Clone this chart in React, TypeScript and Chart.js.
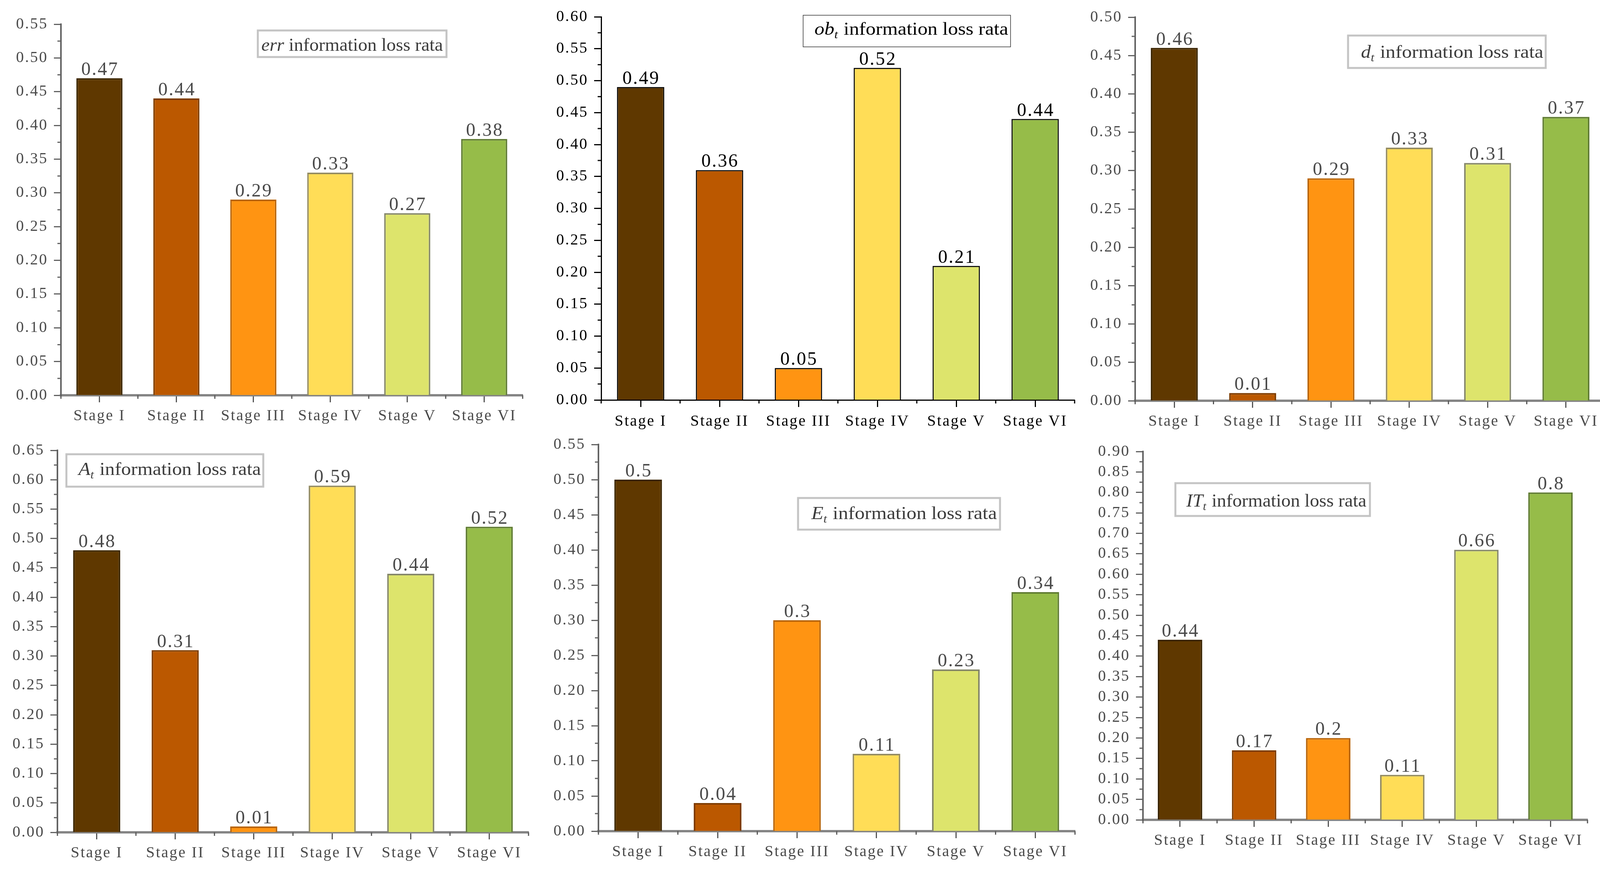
import React, { useEffect, useRef } from 'react';
import { Chart, registerables } from 'chart.js';

Chart.register(...registerables);

// ---------------- data ----------------
const categories = ['Stage I', 'Stage II', 'Stage III', 'Stage IV', 'Stage V', 'Stage VI'];
const errValues = [0.47, 0.44, 0.29, 0.33, 0.27, 0.38];
const obValues = [0.49, 0.36, 0.05, 0.52, 0.21, 0.44];
const dValues = [0.46, 0.01, 0.29, 0.33, 0.31, 0.37];
const aValues = [0.48, 0.31, 0.01, 0.59, 0.44, 0.52];
const eValues = [0.5, 0.04, 0.3, 0.11, 0.23, 0.34];
const itValues = [0.44, 0.17, 0.2, 0.11, 0.66, 0.8];
const yAxisMax = [0.55, 0.6, 0.5, 0.65, 0.55, 0.9];
const yTickStep = 0.05;

// ---------------- style ----------------
const barColors = ['#5f3800', '#bb5800', '#ff9412', '#ffdd57', '#dde46c', '#96bc49'];
const softBorderColors = ['#3a2400', '#7e3c00', '#b86408', '#948c62', '#85876a', '#5f7b32'];
const SERIF = '"Liberation Serif", "Times New Roman", serif';

type Area = { l: number; t: number; r: number; b: number };
type Box = { dx: number; dy: number; w: number; h: number; pad: number; textW: number; base: number };
type Panel = {
  values: number[];
  max: number;
  variable: string;
  sub: string;
  soft: boolean;
  area: Area;
  box: Box;
};

const panels: Panel[] = [
  {
    values: errValues, max: yAxisMax[0], variable: 'err', sub: '', soft: true,
    area: { l: 156, t: 62, r: 1338, b: 1012 },
    box: { dx: 504, dy: 16, w: 483, h: 68, pad: 9, textW: 465, base: 52 },
  },
  {
    values: obValues, max: yAxisMax[1], variable: 'ob', sub: 't', soft: false,
    area: { l: 1539, t: 43, r: 2751, b: 1024 },
    box: { dx: 517, dy: -4, w: 531, h: 81, pad: 29, textW: 496, base: 50 },
  },
  {
    values: dValues, max: yAxisMax[2], variable: 'd', sub: 't', soft: true,
    area: { l: 2906, t: 44, r: 4109, b: 1026 },
    box: { dx: 545, dy: 47, w: 506, h: 83, pad: 33, textW: 467, base: 57 },
  },
  {
    values: aValues, max: yAxisMax[3], variable: 'A', sub: 't', soft: true,
    area: { l: 147, t: 1153, r: 1353, b: 2131 },
    box: { dx: 23, dy: 10, w: 504, h: 83, pad: 31, textW: 467, base: 53 },
  },
  {
    values: eValues, max: yAxisMax[4], variable: 'E', sub: 't', soft: true,
    area: { l: 1532, t: 1138, r: 2752, b: 2128 },
    box: { dx: 511, dy: 137, w: 517, h: 81, pad: 34, textW: 475, base: 54 },
  },
  {
    values: itValues, max: yAxisMax[5], variable: 'IT', sub: 't', soft: true,
    area: { l: 2926, t: 1156, r: 4064, b: 2099 },
    box: { dx: 83, dy: 81, w: 498, h: 84, pad: 28, textW: 461, base: 60 },
  },
];

const Y_W = 140;
const PAD_T = 40;
const PAD_R = 40;
const X_H = 110;

function PanelChart({ p }: { p: Panel }) {
  const ref = useRef<HTMLCanvasElement | null>(null);
  const left = p.area.l - Y_W;
  const top = p.area.t - PAD_T;
  const width = p.area.r - p.area.l + Y_W + PAD_R;
  const height = p.area.b - p.area.t + PAD_T + X_H;

  useEffect(() => {
    if (!ref.current) return;
    const soft = p.soft;
    const yAxisColor = soft ? '#626262' : '#000000';
    const xAxisColor = soft ? '#858585' : '#000000';
    const textColor = soft ? '#4a4a4a' : '#000000';

    const plugin = {
      id: 'panelDecor',
      beforeDraw(chart: any) {
        chart.ctx.letterSpacing = '3px';
      },
      afterDatasetsDraw(chart: any) {
        const ctx = chart.ctx;
        const meta = chart.getDatasetMeta(0);
        ctx.save();
        ctx.letterSpacing = '3px';
        ctx.font = `48px ${SERIF}`;
        ctx.fillStyle = textColor;
        ctx.textAlign = 'center';
        ctx.textBaseline = 'alphabetic';
        meta.data.forEach((bar: any, i: number) => {
          ctx.fillText(String(p.values[i]), bar.x + 1.5, bar.y - 8);
        });
        ctx.restore();
      },
      afterDraw(chart: any) {
        const ctx = chart.ctx;
        const a = chart.chartArea;
        const ys = chart.scales.y;
        const xs = chart.scales.x;
        ctx.save();
        ctx.letterSpacing = '0px';
        ctx.lineWidth = 3;
        // minor y ticks
        ctx.strokeStyle = yAxisColor;
        const n = Math.round(p.max / yTickStep);
        for (let k = 0; k < n; k++) {
          const py = ys.getPixelForValue((k + 0.5) * yTickStep);
          ctx.beginPath();
          ctx.moveTo(a.left - 9, py);
          ctx.lineTo(a.left, py);
          ctx.stroke();
        }
        // minor x ticks at category boundaries
        ctx.strokeStyle = soft ? '#555555' : '#000000';
        for (let i = 0; i <= categories.length; i++) {
          const px = xs.getPixelForValue(i - 0.5);
          ctx.beginPath();
          ctx.moveTo(px, a.bottom);
          ctx.lineTo(px, a.bottom + 9);
          ctx.stroke();
        }
        // title box
        const b = p.box;
        const bx = a.left + b.dx;
        const by = a.top + b.dy;
        ctx.fillStyle = '#ffffff';
        ctx.fillRect(bx, by, b.w, b.h);
        ctx.strokeStyle = soft ? '#c4c4c4' : '#333333';
        ctx.lineWidth = soft ? 5 : 1.5;
        ctx.strokeRect(bx, by, b.w, b.h);
        const fs = 46;
        const fItalic = `italic ${fs}px ${SERIF}`;
        const fSub = `italic ${Math.round(fs * 0.62)}px ${SERIF}`;
        const fReg = `${fs}px ${SERIF}`;
        const rest = ' information loss rata';
        ctx.font = fItalic;
        const w1 = ctx.measureText(p.variable).width;
        ctx.font = fSub;
        const w2 = p.sub ? ctx.measureText(p.sub).width + 2 : 0;
        ctx.font = fReg;
        const w3 = ctx.measureText(rest).width;
        const sx = b.textW / (w1 + w2 + w3);
        ctx.translate(bx + b.pad, by + b.base);
        ctx.scale(sx, 1);
        ctx.fillStyle = soft ? '#3c3c3c' : '#000000';
        ctx.textAlign = 'left';
        ctx.textBaseline = 'alphabetic';
        ctx.font = fItalic;
        ctx.fillText(p.variable, 0, 0);
        if (p.sub) {
          ctx.font = fSub;
          ctx.fillText(p.sub, w1, fs * 0.2);
        }
        ctx.font = fReg;
        ctx.fillText(rest, w1 + w2, 0);
        ctx.restore();
      },
    };

    const chart = new Chart(ref.current, {
      type: 'bar',
      data: {
        labels: categories,
        datasets: [
          {
            data: p.values,
            backgroundColor: barColors,
            borderColor: soft ? softBorderColors : '#000000',
            borderWidth: soft ? 4 : 3,
            borderSkipped: 'start',
            barPercentage: 0.6,
            categoryPercentage: 1.0,
          },
        ],
      },
      options: {
        responsive: false,
        animation: false,
        devicePixelRatio: 1,
        layout: { padding: { left: 0, top: PAD_T, right: PAD_R, bottom: 0 } },
        plugins: {
          legend: { display: false },
          tooltip: { enabled: false },
          title: { display: false },
        },
        scales: {
          x: {
            type: 'category',
            offset: true,
            z: 1,
            afterFit: (scale: any) => {
              scale.height = X_H;
            },
            grid: {
              display: true,
              offset: false,
              drawOnChartArea: false,
              drawTicks: true,
              tickLength: 18,
              tickColor: soft ? '#555555' : '#000000',
              tickWidth: 3,
            },
            border: { display: true, color: xAxisColor, width: soft ? 6 : 3 },
            ticks: {
              autoSkip: false,
              maxRotation: 0,
              minRotation: 0,
              padding: soft ? 11 : 13,
              color: textColor,
              font: { family: SERIF, size: 40 },
            },
          },
          y: {
            min: 0,
            max: p.max,
            z: 1,
            afterFit: (scale: any) => {
              scale.width = Y_W;
            },
            grid: {
              display: true,
              drawOnChartArea: false,
              drawTicks: true,
              tickLength: 18,
              tickColor: yAxisColor,
              tickWidth: 3,
            },
            border: { display: true, color: yAxisColor, width: soft ? 4 : 3 },
            ticks: {
              stepSize: yTickStep,
              padding: 15,
              color: textColor,
              font: { family: SERIF, size: 40 },
              callback: (v: any) => Number(v).toFixed(2),
            },
          },
        },
      },
      plugins: [plugin],
    } as any);

    return () => {
      chart.destroy();
    };
  }, [p]);

  return (
    <canvas
      ref={ref}
      width={width}
      height={height}
      style={{ position: 'absolute', left, top, width, height }}
    />
  );
}

export default function App() {
  return (
    <div
      style={{
        position: 'absolute',
        left: 0,
        top: 0,
        width: 4150,
        height: 2230,
        background: '#ffffff',
        overflow: 'hidden',
      }}
    >
      {panels.map((p, i) => (
        <PanelChart key={i} p={p} />
      ))}
    </div>
  );
}
